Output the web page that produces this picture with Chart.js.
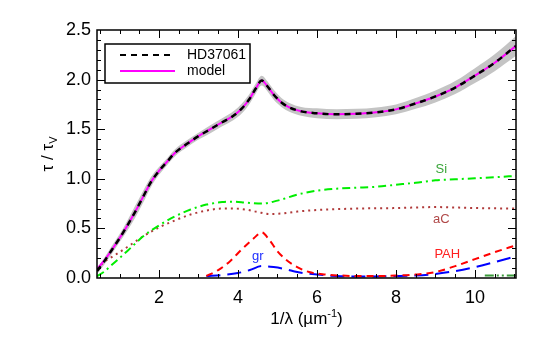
<!DOCTYPE html>
<html><head><meta charset="utf-8">
<script src="https://cdn.jsdelivr.net/npm/chart.js@4/dist/chart.umd.min.js"></script>
<style>html,body{margin:0;padding:0;background:#fff}#wrap{width:545px;height:340px}</style>
</head><body><div id="wrap"><canvas id="c" width="545" height="340"></canvas></div>
<script>
// ---- data ----
const mainX = [0.43,0.6,0.8,1.0,1.2,1.4,1.6,1.8,2.0,2.2,2.4,2.7,3.0,3.3,3.6,3.9,4.1,4.3,4.45,4.6,4.75,4.9,5.1,5.3,5.6,6.0,6.5,7.0,7.5,8.0,8.5,9.0,9.5,10.0,10.5,11.04];
const hd37061 = [0.07,0.16,0.28,0.40,0.53,0.67,0.82,0.97,1.08,1.17,1.26,1.35,1.43,1.50,1.57,1.64,1.71,1.81,1.91,1.99,1.93,1.85,1.77,1.72,1.68,1.66,1.65,1.655,1.67,1.70,1.76,1.83,1.92,2.04,2.17,2.34];
const model   = [0.09,0.17,0.28,0.40,0.53,0.67,0.82,0.97,1.08,1.17,1.26,1.35,1.43,1.50,1.57,1.64,1.71,1.81,1.91,1.99,1.93,1.85,1.77,1.72,1.68,1.66,1.65,1.655,1.67,1.70,1.76,1.83,1.92,2.04,2.17,2.34];
const hdErr   = [0.03,0.035,0.04,0.04,0.05,0.06,0.06,0.05,0.04,0.035,0.035,0.035,0.035,0.04,0.04,0.045,0.05,0.05,0.05,0.05,0.05,0.05,0.045,0.045,0.045,0.05,0.05,0.05,0.05,0.05,0.055,0.06,0.065,0.075,0.085,0.1];
const siX = [0.43,0.6,0.8,1.0,1.3,1.6,2.0,2.4,2.8,3.2,3.6,3.9,4.2,4.6,5.0,5.5,6.0,6.5,7.0,7.5,8.0,8.5,9.0,9.5,10.0,10.5,11.04];
const si  = [0.02,0.06,0.13,0.20,0.31,0.42,0.53,0.62,0.69,0.74,0.765,0.77,0.76,0.75,0.78,0.84,0.88,0.90,0.91,0.92,0.94,0.96,0.985,0.995,1.005,1.015,1.03];
const acX = [0.43,0.6,0.8,1.0,1.3,1.6,2.0,2.4,2.8,3.2,3.6,3.9,4.2,4.5,4.8,5.1,5.5,6.0,7.0,8.0,9.0,10.0,11.04];
const ac  = [0.09,0.16,0.21,0.26,0.34,0.42,0.51,0.58,0.64,0.68,0.70,0.70,0.69,0.665,0.645,0.65,0.67,0.685,0.70,0.705,0.715,0.705,0.70];
const pahX = [3.2,3.5,3.8,4.1,4.4,4.6,4.8,5.0,5.2,5.5,5.8,6.2,6.6,7.0,7.5,8.0,8.5,9.0,9.5,10.0,10.5,11.04];
const pah  = [0.02,0.08,0.17,0.29,0.40,0.46,0.38,0.27,0.19,0.11,0.06,0.035,0.025,0.02,0.02,0.025,0.035,0.06,0.12,0.19,0.26,0.33];
const grX = [3.2,3.6,4.0,4.3,4.6,4.9,5.2,5.5,6.0,6.5,7.0,8.0,8.5,9.0,9.5,10.0,10.5,11.04];
const gr  = [0.02,0.03,0.05,0.08,0.12,0.11,0.09,0.06,0.035,0.02,0.015,0.02,0.025,0.04,0.07,0.11,0.16,0.22];
const extraX = [10.25,11.04];
const extra  = [0.025,0.025];
const xTicks = [2,4,6,8,10];
const yTicks = [0.0,0.5,1.0,1.5,2.0,2.5];
const legendNames = ['HD37061','model'];
const compLabels = [
  {text:'Si', x:9.15, y:1.09, color:'#3aa53a'},
  {text:'aC', x:9.15, y:0.59, color:'#b04848'},
  {text:'PAH', x:9.3, y:0.235, color:'#ff2020'},
  {text:'gr', x:4.5, y:0.22, color:'#2030ff'}
];

const pts = (xs, ys) => xs.map((x,i)=>({x:x, y:ys[i]}));
const upper = mainX.map((x,i)=>({x:x, y:hd37061[i]+hdErr[i]}));
const lower = mainX.map((x,i)=>({x:x, y:hd37061[i]-hdErr[i]}));

const common = {pointRadius:0, fill:false, tension:0.35, cubicInterpolationMode:'monotone'};

const FONT = 'Liberation Sans, Arial, Helvetica, sans-serif';

const framePlugin = {
  id:'frame',
  afterDatasetsDraw(chart){
    const {ctx, chartArea:a, scales:{x, y}} = chart;
    ctx.save();
    ctx.strokeStyle = '#000';
    ctx.lineWidth = 1.5;
    ctx.strokeRect(a.left, a.top, a.right-a.left, a.bottom-a.top);
    ctx.lineWidth = 1;
    ctx.beginPath();
    // x ticks
    for (let v = 0.5; v <= 11.0001; v += 0.5) {
      const px = Math.round(x.getPixelForValue(v)) + 0.5;
      if (px <= a.left+1 || px >= a.right-1) continue;
      const major = Math.abs(v/2 - Math.round(v/2)) < 1e-6;
      const L = major ? 8 : 4;
      ctx.moveTo(px, a.bottom); ctx.lineTo(px, a.bottom - L);
      ctx.moveTo(px, a.top); ctx.lineTo(px, a.top + L);
    }
    for (let k = 0; k <= 25; k++) {
      const v = k/10;
      const py = Math.round(y.getPixelForValue(v)) + 0.5;
      if (py <= a.top+1 || py >= a.bottom-1) continue;
      const L = (k % 5 === 0) ? 8 : 4;
      ctx.moveTo(a.left, py); ctx.lineTo(a.left + L, py);
      ctx.moveTo(a.right, py); ctx.lineTo(a.right - L, py);
    }
    ctx.stroke();

    // component labels
    ctx.font = '13px ' + FONT;
    ctx.textAlign = 'center'; ctx.textBaseline = 'middle';
    compLabels.forEach(l => {
      ctx.fillStyle = l.color;
      ctx.fillText(l.text, x.getPixelForValue(l.x), y.getPixelForValue(l.y));
    });

    // legend
    const bx = a.left + 8, by = a.top + 14, bw = 145, bh = 39;
    ctx.fillStyle = '#fff';
    ctx.fillRect(bx, by, bw, bh);
    ctx.lineWidth = 1.5; ctx.strokeStyle = '#000';
    ctx.strokeRect(bx, by, bw, bh);
    ctx.lineWidth = 2;
    ctx.setLineDash([6,5]);
    ctx.beginPath(); ctx.moveTo(bx+15, by+11); ctx.lineTo(bx+68, by+11); ctx.stroke();
    ctx.setLineDash([]);
    ctx.strokeStyle = '#ff00ff';
    ctx.beginPath(); ctx.moveTo(bx+15, by+27); ctx.lineTo(bx+70, by+27); ctx.stroke();
    ctx.fillStyle = '#000';
    ctx.font = '14px ' + FONT;
    ctx.textAlign = 'left';
    ctx.fillText(legendNames[0], bx+82, by+11);
    ctx.fillText(legendNames[1], bx+82, by+27);
    ctx.restore();
  },
  afterDraw(chart){
    const {ctx, chartArea:a} = chart;
    ctx.save();
    ctx.fillStyle = '#000';
    ctx.textBaseline = 'alphabetic';
    // x title: 1/λ (µm^-1)
    const big = '17px ' + FONT, small = '11px ' + FONT;
    const p1 = '1/λ (µm', sup = '-1', p2 = ')';
    ctx.font = big; const w1 = ctx.measureText(p1).width, w3 = ctx.measureText(p2).width;
    ctx.font = small; const w2 = ctx.measureText(sup).width;
    const cx = (a.left + a.right)/2;
    let sx = cx - (w1+w2+w3)/2;
    const base = 324;
    ctx.textAlign = 'left';
    ctx.font = big; ctx.fillText(p1, sx, base); sx += w1;
    ctx.font = small; ctx.fillText(sup, sx, base - 7); sx += w2;
    ctx.font = big; ctx.fillText(p2, sx, base);
    // y title: τ / τ_V
    ctx.translate(53, (a.top + a.bottom)/2);
    ctx.rotate(-Math.PI/2);
    const q1 = 'τ / τ', q2 = 'V';
    ctx.font = big; const v1 = ctx.measureText(q1).width;
    ctx.font = small; const v2 = ctx.measureText(q2).width;
    let ty = -(v1+v2)/2;
    ctx.font = big; ctx.fillText(q1, ty, 0); ty += v1;
    ctx.font = small; ctx.fillText(q2, ty, 4);
    ctx.restore();
  }
};

new Chart(document.getElementById('c'), {
  type:'line',
  data:{
    datasets:[
      Object.assign({}, common, {label:'HD37061', data:pts(mainX, hd37061), borderColor:'#000', borderWidth:2.5, borderDash:[6,5], order:0}),
      Object.assign({}, common, {label:'model', data:pts(mainX, model), borderColor:'#ff00ff', borderWidth:2, order:1}),
      Object.assign({}, common, {label:'Si', data:pts(siX, si), borderColor:'#00ee00', borderWidth:2, borderDash:[8,4,2,4], order:3}),
      Object.assign({}, common, {label:'aC', data:pts(acX, ac), borderColor:'#b03a3a', borderWidth:2, borderDash:[2,4], order:4}),
      Object.assign({}, common, {label:'PAH', data:pts(pahX, pah), borderColor:'#ff0000', borderWidth:2, borderDash:[7,5], order:2}),
      Object.assign({}, common, {label:'gr', data:pts(grX, gr), borderColor:'#0000ff', borderWidth:2, borderDash:[14,7], order:2}),
      Object.assign({}, common, {label:'extra', data:pts(extraX, extra), borderColor:'#3a9a3a', borderWidth:2, borderDash:[9,3,2,3,2,3], order:5}),
      Object.assign({}, common, {label:'upper', data:upper, borderWidth:0, borderColor:'rgba(0,0,0,0)', backgroundColor:'#c4c4c4', fill:'+1', order:10}),
      Object.assign({}, common, {label:'lower', data:lower, borderWidth:0, borderColor:'rgba(0,0,0,0)', order:11})
    ]
  },
  options:{
    responsive:false, animation:false,
    layout:{padding:{top:30, right:29, left:0, bottom:0}},
    plugins:{legend:{display:false}, tooltip:{enabled:false}},
    scales:{
      x:{type:'linear', min:0.43, max:11.04,
         grid:{display:false, drawTicks:false}, border:{display:false},
         afterBuildTicks:(s)=>{ s.ticks = xTicks.map(v=>({value:v})); },
         afterFit:(s)=>{ s.height = 62; },
         ticks:{font:{family:FONT, size:18}, color:'#000', padding:9, maxRotation:0, callback:(v)=>String(v)}},
      y:{type:'linear', min:0, max:2.5,
         grid:{display:false, drawTicks:false}, border:{display:false},
         afterBuildTicks:(s)=>{ s.ticks = yTicks.map(v=>({value:v})); },
         afterFit:(s)=>{ s.width = 97; },
         ticks:{font:{family:FONT, size:18}, color:'#000', padding:6, callback:(v)=>Number(v).toFixed(1)}}
    }
  },
  plugins:[framePlugin]
});
</script>
</body></html>
